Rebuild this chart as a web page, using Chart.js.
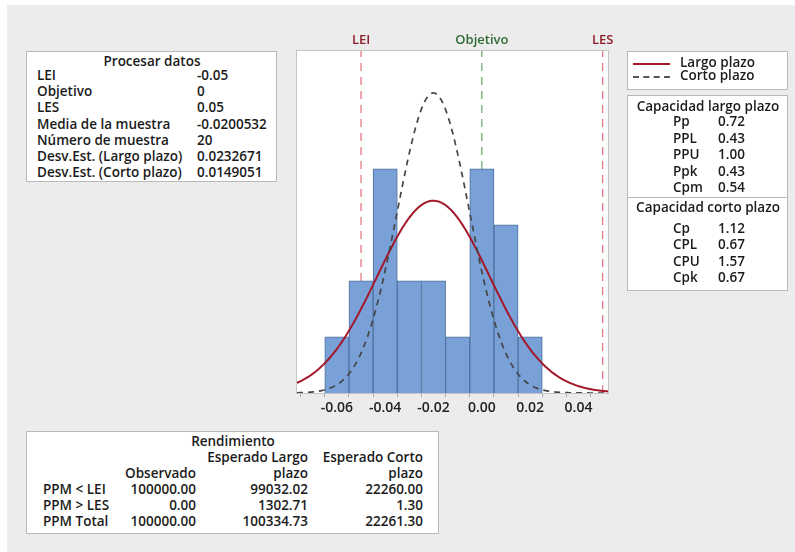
<!DOCTYPE html>
<html>
<head>
<meta charset="utf-8">
<script src="https://cdn.jsdelivr.net/npm/chart.js@4.4.1/dist/chart.umd.min.js"></script>
<style>
  html, body { margin: 0; padding: 0; background: #ffffff; }
  #page { position: relative; width: 795px; height: 552px; overflow: hidden; }
  #panel { position: absolute; left: 7px; top: 5px; right: 0; bottom: 0; background: #ececec; }
  canvas#plot { position: absolute; left: 0; top: 0; }
  .box { position: absolute; background: #ffffff; border: 1px solid #b9b9b9; box-sizing: border-box; }
  .t { position: absolute; font-family: 'Open Sans', 'Noto Sans', sans-serif; font-size: 13.5px; font-weight: 600;
       color: #1b1b1b; line-height: 16px; white-space: nowrap; }
  .c { transform: translateX(-50%); }
  .r { transform: translateX(-100%); }
  .rule { position: absolute; height: 0; }
</style>
</head>
<body>
<div id="page">
  <div id="panel"></div>
  <canvas id="plot" width="795" height="552"></canvas>
  <div id="tables"></div>
</div>
<script>
// ---- process data ----
const procTitle = 'Procesar datos';
const procLabels = ['LEI', 'Objetivo', 'LES', 'Media de la muestra', 'Número de muestra',
                    'Desv.Est. (Largo plazo)', 'Desv.Est. (Corto plazo)'];
const procValues = ['-0.05', '0', '0.05', '-0.0200532', '20', '0.0232671', '0.0149051'];

// specification limits
const specNames  = ['LEI', 'Objetivo', 'LES'];
const specValues = [-0.05, 0, 0.05];

// histogram: bin centres (width 0.01) and counts
const binCenters = [-0.06, -0.05, -0.04, -0.03, -0.02, -0.01, 0.00, 0.01, 0.02];
const binCounts  = [1, 2, 4, 2, 2, 1, 4, 3, 1];
const binWidth = 0.01;

// fitted normal parameters
const sampleMean = -0.0200532;
const sampleSize = 20;
const sdLong  = 0.0232671;
const sdShort = 0.0149051;

// x axis
const xMin = -0.0765, xMax = 0.0522;
const tickValues = [-0.07, -0.06, -0.05, -0.04, -0.03, -0.02, -0.01, 0.00, 0.01, 0.02, 0.03, 0.04, 0.05];
const tickLabels = ['-0.06', '-0.04', '-0.02', '0.00', '0.02', '0.04'];

// legend
const legendLabels = ['Largo plazo', 'Corto plazo'];

// capability tables
const capLongTitle = 'Capacidad largo plazo';
const capLongLabels = ['Pp', 'PPL', 'PPU', 'Ppk', 'Cpm'];
const capLongValues = ['0.72', '0.43', '1.00', '0.43', '0.54'];
const capShortTitle = 'Capacidad corto plazo';
const capShortLabels = ['Cp', 'CPL', 'CPU', 'Cpk'];
const capShortValues = ['1.12', '0.67', '1.57', '0.67'];

// yield table
const yieldTitle = 'Rendimiento';
const yieldHeads1 = ['', 'Esperado Largo', 'Esperado Corto'];
const yieldHeads2 = ['Observado', 'plazo', 'plazo'];
const yieldRows = ['PPM < LEI', 'PPM > LES', 'PPM Total'];
const yieldObserved = ['100000.00', '0.00', '100000.00'];
const yieldLong  = ['99032.02', '1302.71', '100334.73'];
const yieldShort = ['22260.00', '1.30', '22261.30'];

// ---- curve points: normal density scaled to histogram counts ----
function normalCurve(mean, sd) {
  const pts = [];
  const n = 240;
  for (let i = 0; i <= n; i++) {
    const x = xMin + (xMax - xMin) * i / n;
    const z = (x - mean) / sd;
    const y = sampleSize * binWidth * Math.exp(-0.5 * z * z) / (sd * Math.sqrt(2 * Math.PI));
    pts.push({ x, y });
  }
  return pts;
}

const yMax = 6.1;
const specColors = ['#e0707a', '#6aa86a', '#e0707a'];
const specLabelColors = ['#8e1f2a', '#2f6a34', '#8e1f2a'];

const specDatasets = specValues.map((v, i) => ({
  type: 'line',
  data: [{ x: v, y: 0 }, { x: v, y: yMax }],
  borderColor: specColors[i],
  borderWidth: 1.2,
  borderDash: [8, 6],
  pointRadius: 0,
  order: 5
}));

const framePlugin = {
  id: 'frame',
  beforeDraw(chart) {
    const a = chart.chartArea, ctx = chart.ctx;
    ctx.save();
    ctx.fillStyle = '#ffffff';
    ctx.fillRect(a.left, a.top, a.right - a.left, a.bottom - a.top);
    ctx.restore();
  },
  afterDraw(chart) {
    const a = chart.chartArea, ctx = chart.ctx;
    ctx.save();
    ctx.strokeStyle = '#c4c4c4';
    ctx.lineWidth = 1;
    ctx.strokeRect(a.left - 0.5, a.top - 0.5, a.right - a.left + 1, a.bottom - a.top + 1);
    // specification names above the plot
    ctx.font = "600 13px 'Open Sans', 'Noto Sans', sans-serif";
    ctx.textAlign = 'center';
    ctx.textBaseline = 'middle';
    const xs = chart.scales.x;
    specValues.forEach((v, i) => {
      ctx.fillStyle = specLabelColors[i];
      ctx.fillText(specNames[i], xs.getPixelForValue(v), 40);
    });
    ctx.restore();
  }
};

new Chart(document.getElementById('plot'), {
  data: {
    datasets: [
      {
        type: 'line',
        data: normalCurve(sampleMean, sdLong),
        borderColor: '#a3192b',
        borderWidth: 2,
        pointRadius: 0,
        tension: 0,
        order: 1
      },
      {
        type: 'line',
        data: normalCurve(sampleMean, sdShort),
        borderColor: '#454545',
        borderWidth: 1.7,
        borderDash: [6, 5],
        pointRadius: 0,
        tension: 0,
        order: 0
      },
      {
        type: 'bar',
        data: binCenters.map((c, i) => ({ x: c, y: binCounts[i] })),
        backgroundColor: '#79a1d7',
        borderColor: '#4f719e',
        borderWidth: 1,
        barPercentage: 1,
        categoryPercentage: 1,
        grouped: false,
        order: 3
      },
      ...specDatasets
    ]
  },
  options: {
    responsive: false,
    animation: false,
    events: [],
    layout: { padding: { left: 297, right: 187, top: 51, bottom: 129 } },
    plugins: { legend: { display: false }, tooltip: { enabled: false } },
    scales: {
      x: {
        type: 'linear',
        min: xMin,
        max: xMax,
        offset: false,
        afterBuildTicks(scale) { scale.ticks = tickValues.map(v => ({ value: v })); },
        afterFit(scale) { scale.height = 30; },
        grid: { drawOnChartArea: false, drawTicks: true, tickLength: 4, color: '#a8a8a8' },
        border: { display: true, color: '#c4c4c4' },
        ticks: {
          autoSkip: false,
          maxRotation: 0,
          padding: 3,
          color: '#222222',
          font: { family: "'Open Sans', 'Noto Sans', sans-serif", size: 14, weight: '600' },
          callback(v) {
            const s = v.toFixed(2);
            const lbl = (s === '-0.00') ? '0.00' : s;
            return tickLabels.includes(lbl) ? lbl : '';
          }
        }
      },
      y: { display: false, min: 0, max: yMax }
    }
  },
  plugins: [framePlugin]
});

// ---- text panels ----
const host = document.getElementById('tables');
function box(l, t, w, h) {
  const d = document.createElement('div');
  d.className = 'box';
  Object.assign(d.style, { left: l + 'px', top: t + 'px', width: w + 'px', height: h + 'px' });
  host.appendChild(d);
}
function text(s, x, yc, align) {
  const d = document.createElement('div');
  d.className = 't' + (align === 'c' ? ' c' : align === 'r' ? ' r' : '');
  d.textContent = s;
  Object.assign(d.style, { left: x + 'px', top: (yc - 8) + 'px' });
  host.appendChild(d);
}
function rule(x1, x2, y, style) {
  const d = document.createElement('div');
  d.className = 'rule';
  Object.assign(d.style, { left: x1 + 'px', top: y + 'px', width: (x2 - x1) + 'px', borderTop: style });
  host.appendChild(d);
}

// process data
box(26, 51, 251, 131);
text(procTitle, 152, 61, 'c');
procLabels.forEach((s, i) => {
  text(s, 37, 75 + i * 16.2);
  text(procValues[i], 197, 75 + i * 16.2);
});

// legend
box(627, 51, 161, 39);
rule(633, 670, 63, '2px solid #a3192b');
rule(633, 670, 76, '2px dashed #555555');
legendLabels.forEach((s, i) => text(s, 680, 62 + i * 13));

// capability
box(627, 95, 161, 196);
rule(627, 788, 197, '1px solid #b9b9b9');
text(capLongTitle, 708, 106, 'c');
capLongLabels.forEach((s, i) => {
  text(s, 673, 121 + i * 16.5);
  text(capLongValues[i], 718, 121 + i * 16.5);
});
text(capShortTitle, 708, 207, 'c');
capShortLabels.forEach((s, i) => {
  text(s, 673, 228 + i * 16.3);
  text(capShortValues[i], 718, 228 + i * 16.3);
});

// yield
box(26, 431, 413, 103);
text(yieldTitle, 233, 441, 'c');
const colRight = [196, 308, 423];
yieldHeads1.forEach((s, i) => { if (s) text(s, colRight[i], 457, 'r'); });
yieldHeads2.forEach((s, i) => text(s, colRight[i], 473, 'r'));
yieldRows.forEach((s, i) => {
  const y = 489 + i * 16;
  text(s, 43, y);
  text(yieldObserved[i], colRight[0], y, 'r');
  text(yieldLong[i], colRight[1], y, 'r');
  text(yieldShort[i], colRight[2], y, 'r');
});
</script>
</body>
</html>
